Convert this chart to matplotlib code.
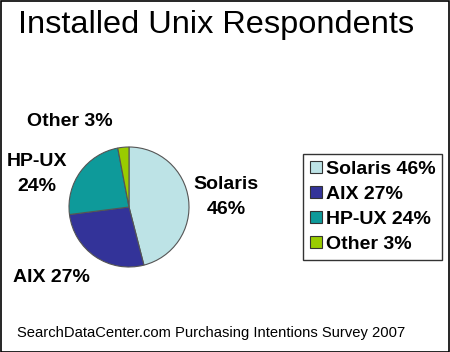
import matplotlib
matplotlib.use("Agg")
import matplotlib.pyplot as plt
from matplotlib.patches import Rectangle

# ---------- Data ----------
systems = ["Solaris", "AIX", "HP-UX", "Other"]
shares = [46, 27, 24, 3]
colors = ["#BDE3E6", "#333399", "#0E9A9A", "#99CC00"]

title = "Installed Unix Respondents"
footer = "SearchDataCenter.com Purchasing Intentions Survey 2007"

plt.rcParams["font.family"] = ["Liberation Sans", "DejaVu Sans"]

W, H = 450, 352
fig = plt.figure(figsize=(W / 100, H / 100), dpi=100)
fig.patch.set_facecolor("white")

# outer black frame
fig.add_artist(Rectangle((0.5 / W, 0.5 / H), 1 - 1.5 / W, 1 - 1.5 / H,
                         transform=fig.transFigure, fill=False,
                         edgecolor="black", linewidth=1.2))

# ---------- Pie ----------
cx, cy, r = 129, 207, 60
ax = fig.add_axes([(cx - r) / W, (H - cy - r) / H, 2 * r / W, 2 * r / H])
wedges, _ = ax.pie(shares, colors=colors, startangle=90, counterclock=False,
                   wedgeprops=dict(edgecolor="#555555", linewidth=0.8))
ax.set_xlim(-1, 1)
ax.set_ylim(-1, 1)
ax.set_aspect("equal")

# ---------- Slice labels ----------
labels = [f"{n}\n{v}%" for n, v in zip(systems, shares)]
labels[1] = f"{systems[1]} {shares[1]}%"
labels[3] = f"{systems[3]} {shares[3]}%"
label_pos = [(226, 197), (51, 277), (37, 174), (70, 121)]
for txt, (x, y) in zip(labels, label_pos):
    fig.text(x / W, 1 - y / H, txt, ha="center", va="center", fontsize=14,
             fontweight="bold", linespacing=1.65)

# ---------- Legend ----------
leg = fig.legend(wedges, [f"{n} {v}%" for n, v in zip(systems, shares)],
                 loc="upper left", bbox_to_anchor=(303 / W, 1 - 154 / H),
                 frameon=True, fancybox=False, borderpad=0.35, labelspacing=0.4,
                 handlelength=0.62, handleheight=0.62, handletextpad=0.2,
                 borderaxespad=0, prop=dict(size=14, weight="bold"))
leg.get_frame().set_edgecolor("black")
leg.get_frame().set_linewidth(1.0)
for h in leg.legend_handles:
    h.set_edgecolor("#333333")
    h.set_linewidth(0.8)

# ---------- Title & footer ----------
fig.text(18 / W, 1 - 25 / H, title, ha="left", va="center", fontsize=23.4)
fig.text(17 / W, 1 - 333 / H, footer, ha="left", va="center", fontsize=10.65)

fig.savefig("out.png", dpi=100, facecolor="white")
